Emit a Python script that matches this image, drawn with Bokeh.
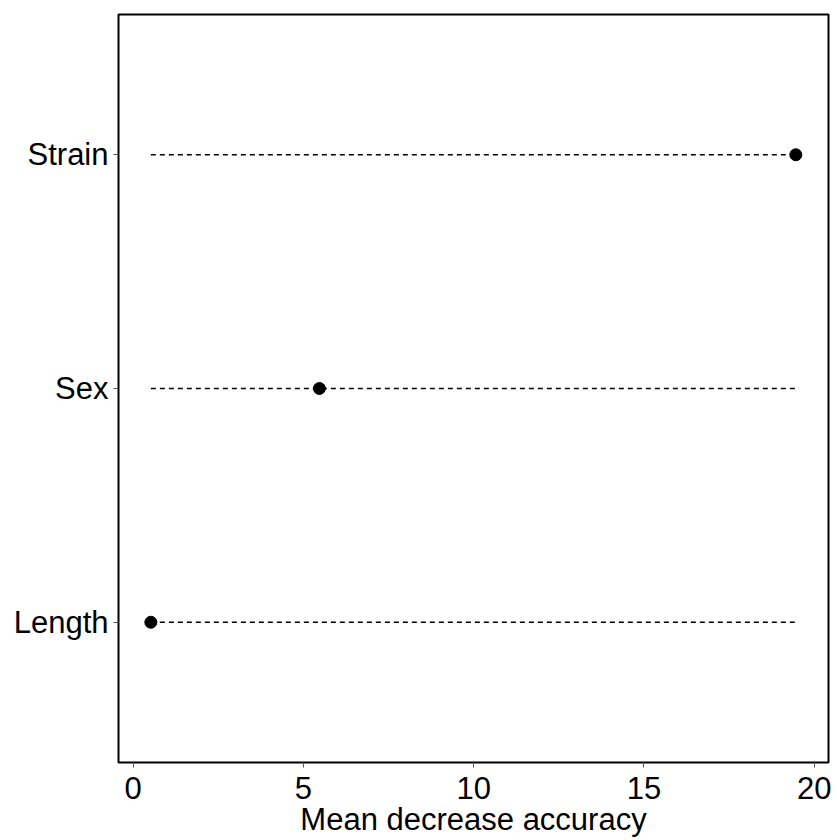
from bokeh.plotting import figure
from bokeh.models import Range1d, FixedTicker, ColumnDataSource
from bokeh.embed import file_html
from bokeh.resources import INLINE

categories = ["Length", "Sex", "Strain"]
importance = [0.52, 5.47, 19.46]
x_ticks = [0, 5, 10, 15, 20]
x_label = "Mean decrease accuracy"

ypos = [i + 1 for i in range(len(categories))]

p = figure(width=837, height=840, output_backend="svg", toolbar_location=None,
           x_range=Range1d(-0.43, 20.42), y_range=Range1d(0.4, 3.6),
           min_border_left=118, min_border_right=9, min_border_top=14, min_border_bottom=78)
p.xgrid.visible = False
p.ygrid.visible = False
p.background_fill_color = "white"
p.border_fill_color = "white"
p.outline_line_color = "black"
p.outline_line_width = 2

lo, hi = min(importance), max(importance)
p.segment(x0=[lo] * len(ypos), x1=[hi] * len(ypos), y0=ypos, y1=ypos,
          line_color="black", line_width=1.3, line_dash="5 4")

src = ColumnDataSource(dict(x=importance, y=ypos))
p.scatter("x", "y", source=src, size=12, color="black")

for ax in (p.xaxis[0], p.yaxis[0]):
    ax.axis_line_color = None
    ax.major_tick_line_color = "#555555"
    ax.major_tick_line_width = 1
    ax.major_tick_out = 5
    ax.major_tick_in = 0
    ax.minor_tick_line_color = None
    ax.major_label_text_font = "Liberation Sans"
    ax.major_label_text_font_size = "31px"
    ax.major_label_text_color = "black"

p.xaxis.ticker = FixedTicker(ticks=x_ticks)
p.xaxis.major_label_standoff = 9
p.xaxis.axis_label = x_label
p.xaxis.axis_label_text_font = "Liberation Sans"
p.xaxis.axis_label_text_font_size = "31px"
p.xaxis.axis_label_text_font_style = "normal"
p.xaxis.axis_label_text_color = "black"
p.xaxis.axis_label_standoff = 0

p.yaxis.ticker = FixedTicker(ticks=ypos)
p.yaxis.major_label_overrides = {y: c for y, c in zip(ypos, categories)}
p.yaxis.major_label_standoff = 5

open("out.html", "w").write(file_html(p, INLINE))
